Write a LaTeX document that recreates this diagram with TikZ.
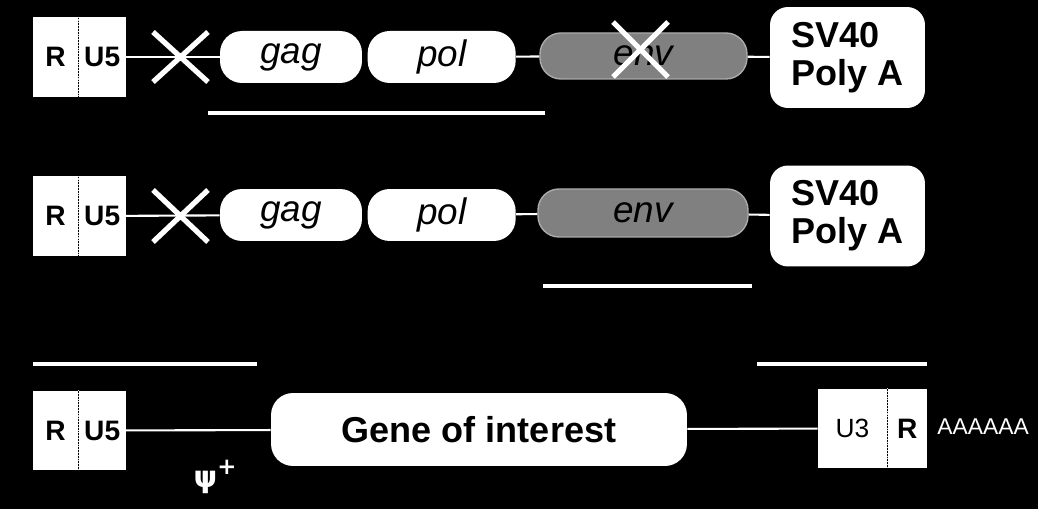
\documentclass[tikz,border=0pt]{standalone}
\usepackage{fontspec}
\setmainfont{Liberation Sans}
\newfontfamily\psifont{DejaVu Sans}
\usepackage{tikz}
\usetikzlibrary{positioning}
\definecolor{envfill}{RGB}{128,128,128}
\definecolor{envedge}{RGB}{170,170,170}

\begin{document}
\begin{tikzpicture}[
            x=0.02cm, y=-0.02cm,
            cell_style/.style={
                fill=white, inner sep=0pt,
                minimum height=1.6cm,
                font=\bfseries\fontsize{16}{18}\selectfont
            },
            pill_style/.style={
                fill=white, inner sep=0pt,
                rounded corners=0.44cm, minimum height=1.04cm,
                font=\itshape\fontsize{21}{24}\selectfont
            },
            env_style/.style={pill_style, fill=envfill, draw=envedge, line width=0.8pt,
                rounded corners=0.42cm, minimum height=0.92cm},
            polya_style/.style={
                fill=white, inner sep=0pt, align=left,
                rounded corners=0.36cm, minimum width=3.1cm, minimum height=2.02cm,
                font=\bfseries\fontsize{20.5}{21.5}\selectfont
            },
            link_style/.style={white, line width=1.2pt},
            cross_style/.style={white, line width=3pt},
            bar_style/.style={white, line width=2.8pt},
            divider_style/.style={gray!30, densely dotted, line width=0.6pt}
        ]
        % Background
        \fill[black] (0,0) rectangle (1038,509);

        % Row 1: packaging construct, env deleted
        \node[cell_style, minimum width=0.9cm] (r1R) at (55.5,57) {R};
        \node[cell_style, minimum width=0.94cm, right=0pt of r1R] (r1U) {U5};
        \node[pill_style, minimum width=2.84cm] (gag1) at (291,57) {gag};
        \node[pill_style, minimum width=2.96cm, right=0.1cm of gag1] (pol1) {pol};
        \node[env_style, minimum width=4.14cm] (env1) at (643.5,56) {env};
        \node[polya_style] (sv1) at (847.5,57.5) {SV40\\Poly A};
        \draw[divider_style] (r1R.north east) -- (r1R.south east);
        \draw[link_style] (r1U) -- (gag1);
        \draw[link_style] (pol1) -- (env1);
        \draw[link_style] (env1) -- (sv1);
        \draw[cross_style] (153,32) -- (208,82) (153,82) -- (208,32);
        \draw[cross_style] (613,22) -- (668,77) (613,77) -- (668,22);
        \draw[bar_style] (208,113) -- (545,113);

        % Row 2: envelope construct
        \node[cell_style, minimum width=0.9cm] (r2R) at (55.5,216) {R};
        \node[cell_style, minimum width=0.94cm, right=0pt of r2R] (r2U) {U5};
        \node[pill_style, minimum width=2.84cm] (gag2) at (291,215) {gag};
        \node[pill_style, minimum width=2.96cm, right=0.1cm of gag2] (pol2) {pol};
        \node[env_style, minimum width=4.2cm, minimum height=0.96cm] (env2) at (643,213) {env};
        \node[polya_style] (sv2) at (847.5,216) {SV40\\Poly A};
        \draw[divider_style] (r2R.north east) -- (r2R.south east);
        \draw[link_style] (r2U) -- (gag2);
        \draw[link_style] (pol2) -- (env2);
        \draw[link_style] (env2) -- (sv2);
        \draw[cross_style] (153,190) -- (208,242) (153,242) -- (208,190);
        \draw[bar_style] (543,286) -- (752,286);

        % Row 3: transfer vector
        \draw[bar_style] (33,364) -- (257,364);
        \draw[bar_style] (757,364) -- (927,364);
        \node[cell_style, minimum width=0.9cm] (r3R) at (55.5,430.5) {R};
        \node[cell_style, minimum width=0.94cm, right=0pt of r3R] (r3U) {U5};
        \node[fill=white, inner sep=0pt, rounded corners=0.44cm,
              minimum width=8.32cm, minimum height=1.46cm,
              font=\bfseries\fontsize{20.5}{22}\selectfont] (gene) at (479,429.5) {Gene of interest};
        \node[cell_style, minimum width=1.38cm, font=\fontsize{15}{17}\selectfont] (r3U3) at (852.5,428.5) {U3};
        \node[cell_style, minimum width=0.78cm, right=0pt of r3U3] (r3R2) {R};
        \draw[divider_style] (r3R.north east) -- (r3R.south east);
        \draw[divider_style] (r3U3.north east) -- (r3U3.south east);
        \draw[link_style] (r3U) -- (gene);
        \draw[link_style] (gene) -- (r3U3);
        \node[anchor=west, inner sep=0pt, text=white, font=\fontsize{13}{15}\selectfont] (tail) at (937,427) {AAAAAA};
        \node[text=white, inner sep=0pt, font=\psifont\bfseries\fontsize{17}{19}\selectfont] (psi) at (215,477) {ψ\raisebox{0.45em}{\fontsize{13}{15}\selectfont+}};
\end{tikzpicture}
\end{document}
